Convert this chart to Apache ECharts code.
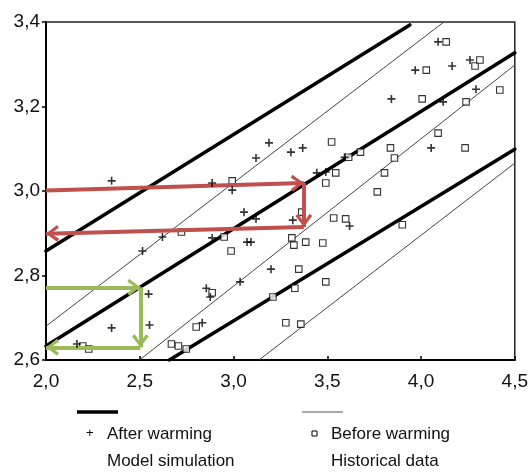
<!DOCTYPE html>
<html>
<head>
<meta charset="utf-8">
<script src="https://cdn.jsdelivr.net/npm/echarts@6/dist/echarts.min.js"></script>
<style>
  html, body { margin: 0; padding: 0; background: #fff; }
  #mychart { width: 531px; height: 474px; }
</style>
</head>
<body>
<div id="mychart"></div>
<script>
// axis ticks
const xTicks = [2.0, 2.5, 3.0, 3.5, 4.0, 4.5];
const yTicks = [2.6, 2.8, 3.0, 3.2, 3.4];

// After warming (+)
const afterWarming = [
  [2.35, 3.024], [2.621, 2.891], [2.515, 2.858], [2.547, 2.756], [2.552, 2.683],
  [2.35, 2.676], [2.165, 2.638], [2.886, 3.019], [2.993, 3.002], [3.056, 2.95],
  [3.12, 2.934], [2.886, 2.889], [3.072, 2.879], [3.093, 2.879], [2.855, 2.77],
  [2.876, 2.749], [3.035, 2.785], [2.833, 2.688], [3.12, 3.078], [3.189, 3.114],
  [3.306, 3.092], [3.369, 3.102], [3.444, 3.043], [3.492, 3.045], [3.316, 2.931],
  [3.2, 2.815], [3.592, 3.08], [3.619, 2.917], [3.842, 3.218], [3.969, 3.286],
  [4.091, 3.353], [4.166, 3.296], [4.261, 3.31], [4.293, 3.241], [4.118, 3.211],
  [4.054, 3.102]
];

// Before warming (squares)
const beforeWarming = [
  [2.722, 2.903], [2.196, 2.633], [2.228, 2.626], [2.669, 2.638], [2.706, 2.633],
  [2.748, 2.626], [2.801, 2.678], [2.993, 3.024], [2.95, 2.891], [2.987, 2.858],
  [2.886, 2.759], [3.311, 2.889], [3.322, 2.872], [3.385, 2.879], [3.476, 2.877],
  [3.348, 2.815], [3.492, 2.785], [3.327, 2.77], [3.21, 2.749], [3.279, 2.688],
  [3.359, 2.685], [3.364, 2.95], [3.492, 3.019], [3.534, 2.936], [3.598, 2.934],
  [3.9, 2.92], [3.767, 2.998], [3.805, 3.043], [3.545, 3.043], [3.523, 3.116],
  [3.614, 3.08], [3.677, 3.092], [3.837, 3.102], [3.858, 3.078], [4.235, 3.102],
  [4.091, 3.137], [4.006, 3.218], [4.24, 3.211], [4.028, 3.286], [4.288, 3.296],
  [4.314, 3.31], [4.134, 3.353], [4.42, 3.239]
];

// Model simulation (thick lines)
const modelUpper = [[2.0, 2.858], [3.94, 3.393]];
const modelMiddle = [[2.0, 2.633], [4.5, 3.327]];
const modelLower = [[2.658, 2.6], [4.5, 3.099]];

// Historical data (thin lines)
const histUpper = [[2.0, 2.68], [4.122, 3.4]];
const histMiddle = [[2.499, 2.6], [4.5, 3.298]];
const histLower = [[3.136, 2.6], [4.5, 3.066]];

// annotation arrows
const redArrows = [
  [[2.0, 3.001], [3.375, 3.019]],
  [[3.375, 3.019], [3.375, 2.915]],
  [[3.375, 2.915], [2.0, 2.899]]
];
const greenArrows = [
  [[2.0, 2.772], [2.503, 2.772]],
  [[2.503, 2.772], [2.503, 2.63]],
  [[2.503, 2.63], [2.0, 2.63]]
];

const FONT = "'Liberation Sans', Arial, sans-serif";
const comma = v => v.toFixed(1).replace(".", ",");
// open arrow head, tip kept at the centre of the symbol box
const chevron = "path://M10,-14 L10.02,-14 L10,-13.98 Z M0,12 L10,0 L20,12 L16.5,14 L10,5 L3.5,14 Z";

function lineSeries(data, width, color) {
  return {
    type: "line",
    data: data,
    symbol: "none",
    silent: true,
    lineStyle: { width: width, color: color, cap: "round" },
    z: 2
  };
}

function arrowSeries(arrows, color) {
  return {
    type: "line",
    data: [],
    silent: true,
    z: 10,
    markLine: {
      silent: true,
      symbol: ["none", chevron],
      symbolSize: [17, 26],
      label: { show: false },
      lineStyle: { type: "solid", width: 4, color: color },
      emphasis: { disabled: true },
      animation: false,
      data: arrows.map(a => [{ coord: a[0] }, { coord: a[1] }])
    }
  };
}

const chart = echarts.init(document.getElementById("mychart"));
const option = {
  animation: false,
  backgroundColor: "#fff",
  grid: {
    left: 46, right: 14, top: 22, bottom: 114,
    show: true, borderColor: "#222", borderWidth: 1.5
  },
  xAxis: {
    type: "value",
    min: 2.0, max: 4.5, interval: 0.5,
    axisLine: { lineStyle: { color: "#000", width: 2 } },
    axisTick: { inside: true, length: 4, lineStyle: { color: "#000", width: 1.5 } },
    axisLabel: {
      color: "#111", fontSize: 19, fontFamily: FONT, margin: 12,
      formatter: v => xTicks.includes(+v.toFixed(1)) ? comma(v) : ""
    },
    splitLine: { show: false }
  },
  yAxis: {
    type: "value",
    min: 2.6, max: 3.4, interval: 0.2,
    axisLine: { show: true, lineStyle: { color: "#000", width: 2 } },
    axisTick: { show: true, length: 4, lineStyle: { color: "#000", width: 1.5 } },
    axisLabel: {
      color: "#111", fontSize: 19, fontFamily: FONT, margin: 6,
      formatter: v => yTicks.includes(+v.toFixed(1)) ? comma(v) : ""
    },
    splitLine: { show: false }
  },
  series: [
    lineSeries(histUpper, 1, "#444"),
    lineSeries(histMiddle, 1, "#444"),
    lineSeries(histLower, 1, "#444"),
    lineSeries(modelUpper, 3.5, "#000"),
    lineSeries(modelMiddle, 3.5, "#000"),
    lineSeries(modelLower, 3.5, "#000"),
    {
      name: "After warming",
      type: "scatter",
      data: afterWarming,
      symbol: "path://M3.6,0 H5.4 V3.6 H9 V5.4 H5.4 V9 H3.6 V5.4 H0 V3.6 H3.6 Z",
      symbolSize: 8,
      itemStyle: { color: "#000" },
      silent: true,
      z: 5
    },
    {
      name: "Before warming",
      type: "scatter",
      data: beforeWarming,
      symbol: "rect",
      symbolSize: 6.5,
      itemStyle: { color: "#fff", borderColor: "#000", borderWidth: 1.1 },
      silent: true,
      z: 4
    },
    arrowSeries(redArrows, "#c0504d"),
    arrowSeries(greenArrows, "#9bbb59")
  ],
  graphic: [
    { type: "line", shape: { x1: 77, y1: 412, x2: 118, y2: 412 }, style: { stroke: "#000", lineWidth: 3.5 } },
    { type: "line", shape: { x1: 302, y1: 412, x2: 343, y2: 412 }, style: { stroke: "#555", lineWidth: 1 } },
    { type: "text", left: 86, top: 427, style: { text: "+", fontSize: 13, fontFamily: FONT, fill: "#000" } },
    { type: "rect", shape: { x: 312, y: 431, width: 5, height: 5 }, style: { fill: "#fff", stroke: "#000", lineWidth: 1 } },
    { type: "text", left: 107, top: 426, style: { text: "After warming", fontSize: 17, fontFamily: FONT, fill: "#111" } },
    { type: "text", left: 331, top: 426, style: { text: "Before warming", fontSize: 17, fontFamily: FONT, fill: "#111" } },
    { type: "text", left: 107, top: 453, style: { text: "Model simulation", fontSize: 17, fontFamily: FONT, fill: "#111" } },
    { type: "text", left: 331, top: 453, style: { text: "Historical data", fontSize: 17, fontFamily: FONT, fill: "#111" } }
  ]
};
chart.setOption(option);
window.addEventListener("resize", () => {
  chart.resize();
});
</script>
</body>
</html>
